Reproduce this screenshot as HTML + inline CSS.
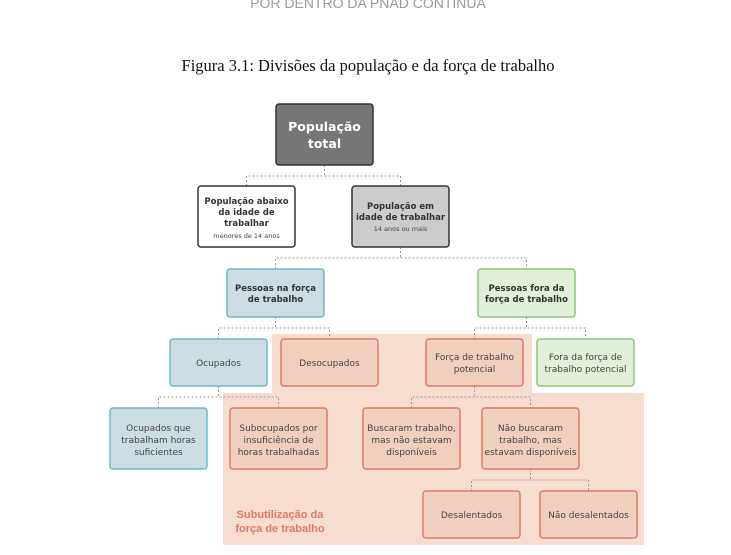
<!DOCTYPE html>
<html><head><meta charset="utf-8"><style>
html,body{margin:0;padding:0;background:#fff;width:731px;height:555px;overflow:hidden}
svg text{font-family:"DejaVu Sans","Liberation Sans",sans-serif}
</style></head><body>
<svg width="731" height="555" viewBox="0 0 731 555" xmlns="http://www.w3.org/2000/svg">
<text x="368" y="8" text-anchor="middle" font-size="14" fill="#999" style="font-family:'Liberation Sans',sans-serif">POR DENTRO DA PNAD CONTÍNUA</text>
<text x="368" y="71" text-anchor="middle" font-size="16.5" fill="#111" style="font-family:'Liberation Serif',serif">Figura 3.1: Divisões da população e da força de trabalho</text>
<path d="M272 334 H532 V393 H644 V545 H223 V393 H272 Z" fill="#f6ddcf"/>
<g stroke="#999" stroke-dasharray="2,2" fill="none" stroke-width="1">
<path d="M324.5 165 V176 M246.5 186 V176 H400.5 V186"/>
<path d="M400.5 247 V258 M275.5 269 V258 H526.5 V269"/>
<path d="M275.5 317 V328 M218.5 339 V328 H329.5 V339"/>
<path d="M526.5 317 V328 M474.5 339 V328 H585.5 V339"/>
<path d="M218.5 386 V397 M158.5 408 V397 H278.5 V408"/>
<path d="M474.5 386 V397 M411.5 408 V397 H530.5 V408"/>
<path d="M530.5 469 V480 M471.5 491 V480 H588.5 V491"/>
</g>
<g stroke-width="1.5">
<rect x="276" y="104" width="97" height="61" rx="3" fill="#767676" stroke="#333"/>
<rect x="198" y="186" width="97" height="61" rx="3" fill="#fff" stroke="#333"/>
<rect x="352" y="186" width="97" height="61" rx="3" fill="#cccccc" stroke="#333"/>
<rect x="227" y="269" width="97" height="48" rx="3" fill="#ccdde4" stroke="#6bb8cc"/>
<rect x="478" y="269" width="97" height="48" rx="3" fill="#e2efd9" stroke="#8cc47a"/>
<rect x="170" y="339" width="97" height="47" rx="3" fill="#ccdde4" stroke="#6bb8cc"/>
<rect x="281" y="339" width="97" height="47" rx="3" fill="#f0cfbe" stroke="#e07a66"/>
<rect x="426" y="339" width="97" height="47" rx="3" fill="#f0cfbe" stroke="#e07a66"/>
<rect x="537" y="339" width="97" height="47" rx="3" fill="#e2efd9" stroke="#8cc47a"/>
<rect x="110" y="408" width="97" height="61" rx="3" fill="#ccdde4" stroke="#6bb8cc"/>
<rect x="230" y="408" width="97" height="61" rx="3" fill="#f0cfbe" stroke="#e07a66"/>
<rect x="363" y="408" width="97" height="61" rx="3" fill="#f0cfbe" stroke="#e07a66"/>
<rect x="482" y="408" width="97" height="61" rx="3" fill="#f0cfbe" stroke="#e07a66"/>
<rect x="423" y="491" width="97" height="47" rx="3" fill="#f0cfbe" stroke="#e07a66"/>
<rect x="540" y="491" width="97" height="47" rx="3" fill="#f0cfbe" stroke="#e07a66"/>
</g>
<g text-anchor="middle">
<text font-size="12.5" font-weight="bold" fill="#fff"><tspan x="324.5" y="131">População</tspan><tspan x="324.5" y="148">total</tspan></text>
<text font-size="8.5" font-weight="bold" fill="#333"><tspan x="246.5" y="204">População abaixo</tspan><tspan x="246.5" y="215">da idade de</tspan><tspan x="246.5" y="226">trabalhar</tspan></text>
<text x="246.5" y="238" font-size="6.5" fill="#444">menores de 14 anos</text>
<text font-size="8.5" font-weight="bold" fill="#333"><tspan x="400.5" y="209">População em</tspan><tspan x="400.5" y="220">idade de trabalhar</tspan></text>
<text x="400.5" y="231" font-size="6.5" fill="#444">14 anos ou mais</text>
<text font-size="8.5" font-weight="bold" fill="#333"><tspan x="275.5" y="291">Pessoas na força</tspan><tspan x="275.5" y="302">de trabalho</tspan></text>
<text font-size="8.5" font-weight="bold" fill="#333"><tspan x="526.5" y="291">Pessoas fora da</tspan><tspan x="526.5" y="302">força de trabalho</tspan></text>
<g font-size="9" fill="#444" style="font-family:'Liberation Sans',sans-serif">
<text x="218.5" y="366">Ocupados</text>
<text x="329.5" y="366">Desocupados</text>
<text><tspan x="474.5" y="360">Força de trabalho</tspan><tspan x="474.5" y="372">potencial</tspan></text>
<text><tspan x="585.5" y="360">Fora da força de</tspan><tspan x="585.5" y="372">trabalho potencial</tspan></text>
<text><tspan x="158.5" y="431">Ocupados que</tspan><tspan x="158.5" y="443">trabalham horas</tspan><tspan x="158.5" y="455">suficientes</tspan></text>
<text><tspan x="278.5" y="431">Subocupados por</tspan><tspan x="278.5" y="443">insuficiência de</tspan><tspan x="278.5" y="455">horas trabalhadas</tspan></text>
<text><tspan x="411.5" y="431">Buscaram trabalho,</tspan><tspan x="411.5" y="443">mas não estavam</tspan><tspan x="411.5" y="455">disponíveis</tspan></text>
<text><tspan x="530.5" y="431">Não buscaram</tspan><tspan x="530.5" y="443">trabalho, mas</tspan><tspan x="530.5" y="455">estavam disponíveis</tspan></text>
<text x="471.5" y="518">Desalentados</text>
<text x="588.5" y="518">Não desalentados</text>
</g>
</g>
<text font-size="11" font-weight="bold" fill="#e07a66" text-anchor="middle" style="font-family:'Liberation Sans',sans-serif"><tspan x="280" y="518">Subutilização da</tspan><tspan x="280" y="532">força de trabalho</tspan></text>
</svg>
</body></html>
